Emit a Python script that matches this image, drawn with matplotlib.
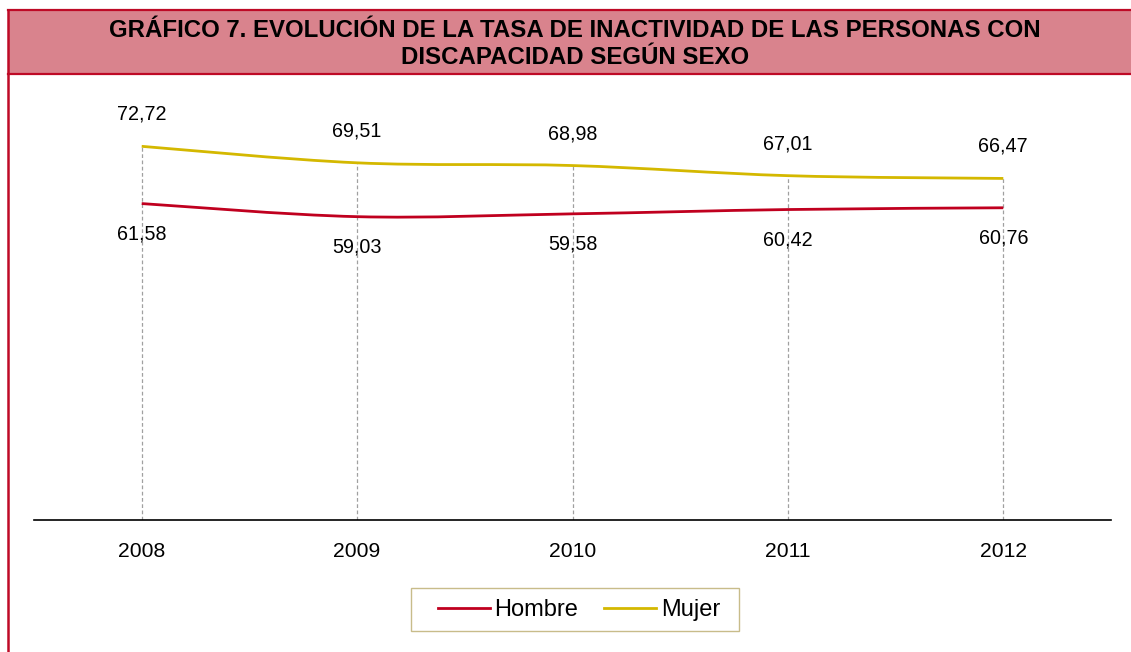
"""Gráfico 7: tasa de inactividad de las personas con discapacidad según sexo"""
import matplotlib
matplotlib.use("Agg")
import matplotlib.pyplot as plt
from matplotlib.path import Path
from matplotlib.patches import PathPatch, Rectangle
from matplotlib.lines import Line2D
import numpy as np

plt.rcParams['font.family'] = ['Liberation Sans', 'DejaVu Sans']

years = ['2008', '2009', '2010', '2011', '2012']
hombre = [61.58, 59.03, 59.58, 60.42, 60.76]
mujer = [72.72, 69.51, 68.98, 67.01, 66.47]

RED = '#C0001F'
GOLD = '#D4B800'
BORDER = '#BE0A26'
BAND = '#D9838D'
W, H = 1131, 652


def smooth_path(xs, ys):
    """Excel-like smoothed line: Catmull-Rom segments drawn as cubic Beziers."""
    pts = np.column_stack([xs, ys]).astype(float)
    verts = [pts[0]]
    codes = [Path.MOVETO]
    n = len(pts)
    for i in range(n - 1):
        p0 = pts[max(i - 1, 0)]
        p1 = pts[i]
        p2 = pts[i + 1]
        p3 = pts[min(i + 2, n - 1)]
        c1 = p1 + (p2 - p0) / 6.0
        c2 = p2 - (p3 - p1) / 6.0
        verts += [c1, c2, p2]
        codes += [Path.CURVE4] * 3
    return Path(verts, codes)


def fmt(v):
    return f"{v:.2f}".replace('.', ',')


fig = plt.figure(figsize=(W / 100, H / 100), dpi=100)

# frame and title band
fig.add_artist(Rectangle((8 / W, 1 - 74 / H), 1.0, 64 / H, transform=fig.transFigure,
                         facecolor=BAND, edgecolor='none'))
for y in (10, 74):
    fig.add_artist(Line2D([8 / W, 1.0], [1 - y / H, 1 - y / H], transform=fig.transFigure,
                          color=BORDER, lw=1.6))
fig.add_artist(Line2D([8 / W, 8 / W], [0, 1 - 10 / H], transform=fig.transFigure,
                      color=BORDER, lw=1.8))
fig.text(575 / W, 1 - 44 / H,
         'GRÁFICO 7. EVOLUCIÓN DE LA TASA DE INACTIVIDAD DE LAS PERSONAS CON\nDISCAPACIDAD SEGÚN SEXO',
         ha='center', va='center', fontsize=17.3, fontweight='bold', linespacing=1.2)

ax = fig.add_axes([34 / W, 1 - 520 / H, (1111 - 34) / W, (520 - 112) / H])
x = np.arange(len(years))
ax.set_xlim(-0.5, len(years) - 0.5)
ax.set_ylim(0, 79.4)

# drop lines
for xi, v in zip(x, mujer):
    ax.plot([xi, xi], [0, v], color='#A0A0A0', lw=0.9, ls=(0, (3, 2)), zorder=1)

for vals, col in ((hombre, RED), (mujer, GOLD)):
    ax.add_patch(PathPatch(smooth_path(x, vals), facecolor='none', edgecolor=col,
                           lw=2.0, zorder=3, capstyle='butt'))

for xi, v in zip(x, mujer):
    ax.annotate(fmt(v), (xi, v), xytext=(0, 23), textcoords='offset points',
                ha='center', va='center', fontsize=14.2)
for xi, v in zip(x, hombre):
    ax.annotate(fmt(v), (xi, v), xytext=(0, -22), textcoords='offset points',
                ha='center', va='center', fontsize=14.2)

for s in ('top', 'right', 'left'):
    ax.spines[s].set_visible(False)
ax.spines['bottom'].set_linewidth(1.2)
ax.set_yticks([])
ax.set_xticks(x)
ax.set_xticklabels(years, fontsize=15.2)
ax.tick_params(axis='x', length=0, pad=16)

# legend box drawn separately so its width matches the original
fig.add_artist(Rectangle((411 / W, 1 - 631 / H), 328 / W, 43 / H, transform=fig.transFigure,
                         facecolor='white', edgecolor='#C8BC8A', lw=1.0))
handles = [Line2D([], [], color=RED, lw=2.0), Line2D([], [], color=GOLD, lw=2.0)]
fig.legend(handles, ['Hombre', 'Mujer'], loc='center', bbox_to_anchor=(579 / W, 1 - 610 / H),
           ncol=2, fontsize=17, frameon=False, handlelength=2.2,
           handletextpad=0.2, columnspacing=1.1, borderpad=0.3)

fig.savefig('out.png', dpi=100)
